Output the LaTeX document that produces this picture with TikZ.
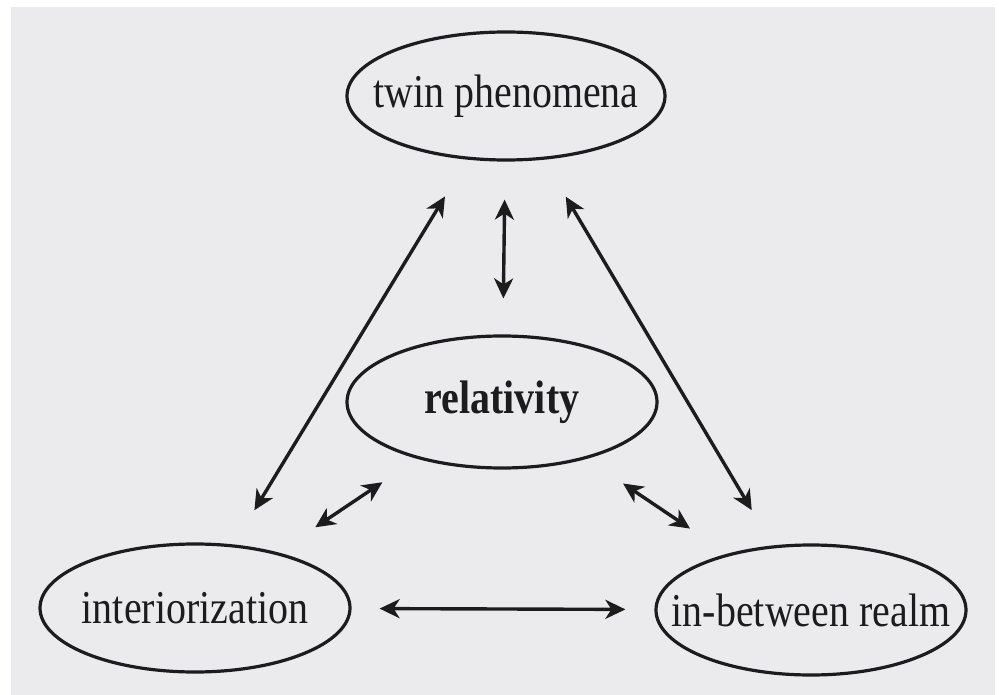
\documentclass[tikz,border=0pt]{standalone}
\usepackage{fontspec}
\setmainfont[FakeStretch=0.85]{Liberation Serif}
\usetikzlibrary{shapes.geometric,arrows.meta}
\definecolor{panelgray}{RGB}{235,235,237}
\definecolor{inkgray}{RGB}{28,28,28}

\begin{document}
\begin{tikzpicture}[x=1pt, y=-1pt,
  concept/.style={draw=inkgray, ellipse, line width=3.2pt, inner sep=0pt,
    font=\fontsize{47}{52}\selectfont, text=inkgray},
  link/.style={{Stealth[length=20pt,width=19pt,inset=6pt]}-{Stealth[length=20pt,width=19pt,inset=6pt]},
    line width=3.4pt, draw=inkgray}
]
\useasboundingbox (0,0) rectangle (999,695);
\fill[white] (0,0) rectangle (999,695);
\fill[panelgray] (11,7) rectangle (995,695);

\node[concept, minimum width=318pt, minimum height=128pt] (twin) at (506,96)
  {\makebox[0pt]{twin phenomena}};
\node[concept, minimum width=310pt, minimum height=132pt] (rel) at (502,402)
  {\makebox[0pt]{\bfseries relativity}};
\node[concept, minimum width=310pt, minimum height=128pt] (interior) at (195,608)
  {\makebox[0pt]{interiorization}};
\node[concept, minimum width=310pt, minimum height=130pt] (between) at (811,610)
  {\makebox[0pt]{in-between realm}};

\foreach \a/\b/\s/\e in {twin/rel/38pt/36pt, interior/twin/40pt/43pt,
  between/twin/41pt/43pt, interior/rel/45pt/42pt, rel/between/44pt/45pt,
  interior/between/28pt/29pt}
  \draw[link, shorten <=\s, shorten >=\e] (\a) -- (\b);
\end{tikzpicture}
\end{document}
